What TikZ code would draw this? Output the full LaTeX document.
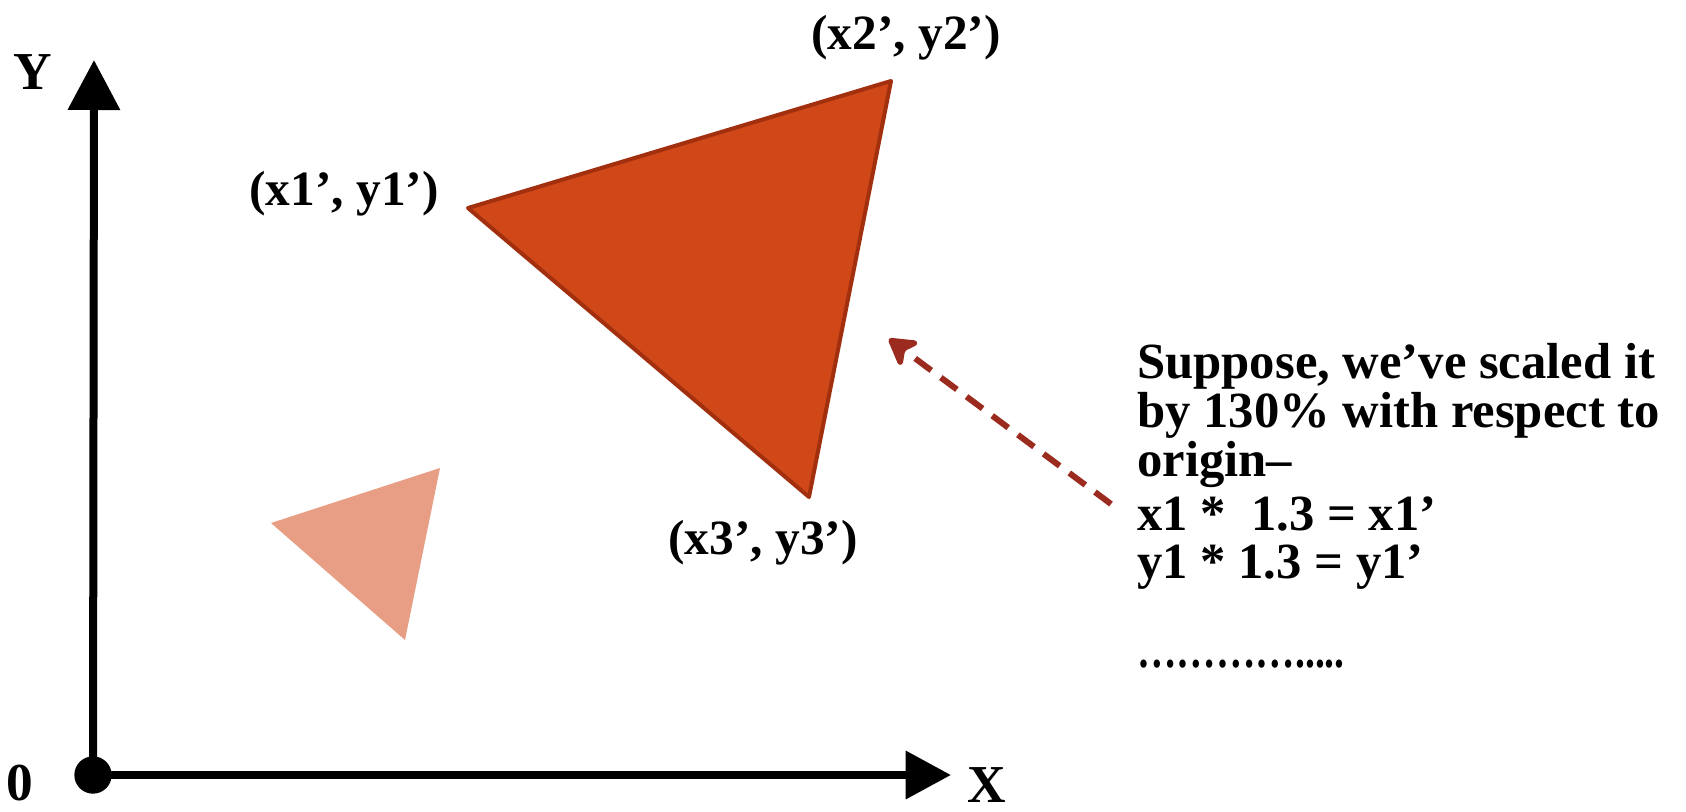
\documentclass[tikz,border=0pt]{standalone}
\usepackage{fontspec}
\setmainfont{Liberation Serif}
\usetikzlibrary{arrows.meta}
\definecolor{bigfill}{HTML}{D14818}
\definecolor{bigdraw}{HTML}{A2300F}
\definecolor{smallfill}{HTML}{E89E84}
\definecolor{arrowred}{HTML}{9B2B1E}
\tikzset{
  axisline/.style={line width=6pt, black},
  axislabel/.style={font=\fontsize{40pt}{40pt}\selectfont\bfseries, inner sep=0pt},
  ptlabel/.style={font=\fontsize{37pt}{37pt}\selectfont\bfseries, inner sep=0pt},
  bodytext/.style={font=\fontsize{38pt}{36.6pt}\selectfont\bfseries, inner sep=0pt, align=left},
  dasharrow/.style={line width=4.5pt, arrowred, dash pattern=on 15pt off 9pt,
    -{Stealth[length=24pt, width=28pt, inset=7pt, round]}},
}
\begin{document}
\begin{tikzpicture}[x=0.75pt, y=-0.75pt]
\useasboundingbox (0,0) rectangle (1686,811);
% axes
\node[circle, fill=black, minimum size=28pt, inner sep=0pt] (O) at (93,775) {};
\coordinate (Ytip) at (94,60);
\coordinate (Xtip) at (951,775);
\draw[axisline, -{Triangle[length=37.5pt, width=38pt]}] (O.center) -- (Ytip);
\draw[axisline, -{Triangle[length=34pt, width=35pt]}] (O.center) -- (Xtip);
\node[axislabel] (ylab) at (33,72) {Y};
\node[axislabel] (zlab) at (20,783) {0};
\node[axislabel] (xlab) at (987,785) {X};
% small triangle
\fill[smallfill] (271,523) -- (440,468) -- (405,640) -- cycle;
% big triangle
\filldraw[fill=bigfill, draw=bigdraw, line width=3pt, line join=round]
  (468,208) coordinate (P1) -- (891,81) coordinate (P2) -- (809,497) coordinate (P3) -- cycle;
\node[ptlabel] (l1) at (344,194) {(x1’, y1’)};
\node[ptlabel] (l2) at (906,38) {(x2’, y2’)};
\node[ptlabel] (l3) at (763,543) {(x3’, y3’)};
% dashed arrow
\coordinate (atail) at (1111,504);
\coordinate (ahead) at (889,339);
\draw[dasharrow] (atail) -- (ahead);
% text
\node[bodytext, anchor=north west] (txt) at (1137,343) {Suppose, we’ve scaled it\\by 130\% with respect to\\origin–\\[4pt]x1 *~~1.3 = x1’\\y1 * 1.3 = y1’\\[30pt]\scalebox{0.78}[1]{………….....}};
\end{tikzpicture}
\end{document}
